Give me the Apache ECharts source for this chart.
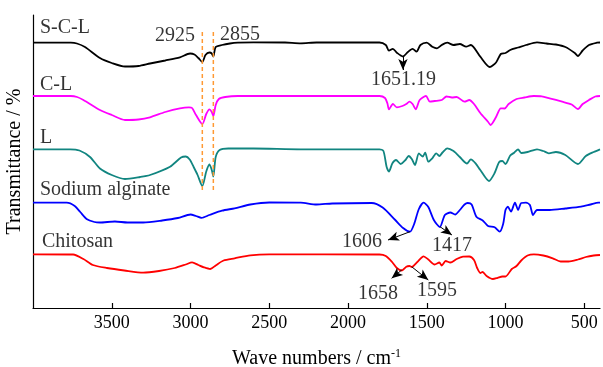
<!DOCTYPE html>
<html>
<head>
<meta charset="utf-8">
<script src="https://cdn.jsdelivr.net/npm/echarts@6/dist/echarts.min.js"></script>
<style>
html,body{margin:0;padding:0;background:#fff;}
#chart{width:603px;height:367px;}
</style>
</head>
<body>
<div id="chart"></div>
<script>
// Wavenumber (cm-1), transmittance (arbitrary, stacked offsets)
var sclData = [[4000,265.3],[3760,265.3],[3721,264.5],[3670,261],[3575,250],[3500,245],[3416,241.5],[3330,242],[3257,244.5],[3160,247.5],[3067,250.7],[3003,254.5],[2975,253.5],[2950,250],[2925,246],[2905,253],[2880,255.5],[2865,254.5],[2855,251.5],[2840,261],[2800,263],[2750,264.5],[2700,265.3],[2600,265.7],[2400,265.5],[2300,264.7],[2200,265.5],[1800,265.5],[1760,263],[1740,257.3],[1715,259.2],[1690,255.3],[1651,251.5],[1620,256],[1590,259.2],[1565,256.3],[1540,263],[1500,265.3],[1465,261.3],[1435,259.7],[1405,263],[1370,265.3],[1330,263],[1290,264],[1250,261.3],[1220,263],[1160,251.3],[1100,241],[1060,245.5],[1030,254],[1000,255],[970,258],[920,260.5],[870,263],[800,265.7],[740,264.5],[680,263.5],[620,261],[560,255],[540,252],[510,257.5],[470,263],[420,265.3],[400,265.5]];
var clData = [[4000,212],[3760,212],[3720,211],[3680,208],[3575,198],[3500,193],[3416,188],[3330,188.5],[3257,190.7],[3160,196],[3067,199.7],[3010,200.7],[2990,200],[2965,193],[2925,184],[2900,194],[2880,198.7],[2865,196],[2855,192],[2840,203],[2820,209],[2780,211],[2700,212],[2300,212],[1800,212],[1765,210],[1750,204.7],[1740,198.7],[1715,204],[1690,200.7],[1655,202],[1630,204],[1610,206.3],[1590,204],[1570,198.7],[1545,208],[1505,212],[1480,206.3],[1450,207],[1405,208],[1375,211.5],[1340,210.5],[1310,211],[1260,206.3],[1230,208],[1200,204],[1160,195],[1110,186],[1095,183],[1060,191],[1030,199.7],[1005,199.5],[980,204],[930,209],[880,210.5],[820,212],[770,211.7],[720,209.7],[640,206.3],[580,203.5],[540,199],[510,204],[470,208],[430,211.5],[400,212]];
var lData = [[4000,158.7],[3765,158.7],[3705,157.5],[3638,151],[3575,139.5],[3500,133],[3416,129],[3320,131],[3257,133],[3130,141.3],[3060,150.5],[3030,151.5],[3005,148.5],[2980,141],[2955,133],[2925,122],[2900,136.5],[2880,143.5],[2865,138],[2855,131.5],[2840,151],[2815,158],[2760,159.5],[2600,159.5],[2300,158.7],[1800,158.7],[1775,157],[1755,141.3],[1740,136.5],[1718,144.7],[1695,148],[1665,144],[1635,148],[1615,152],[1595,149],[1575,143],[1550,154.5],[1525,151.5],[1510,155.3],[1490,146.3],[1465,149.7],[1440,154.7],[1420,152],[1400,155.5],[1370,159.7],[1330,157],[1290,151],[1260,146],[1245,144.5],[1220,148.7],[1190,144.7],[1160,138],[1105,127],[1070,134.7],[1040,146],[1020,147],[1000,144],[970,152.5],[945,155.3],[920,158.7],[900,155],[860,156],[800,158.7],[760,157],[725,154.7],[680,156],[620,153],[540,144],[490,152],[440,156],[400,158.7]];
var saData = [[4000,105.3],[3786,105.3],[3735,102],[3700,96],[3660,89],[3610,86],[3575,85.5],[3480,86.5],[3400,85.5],[3300,85.5],[3180,87.5],[3080,90],[3000,93.5],[2965,92],[2930,90.2],[2880,93],[2800,97.3],[2720,99.7],[2620,103.5],[2500,105.5],[2300,105.3],[2200,103.5],[2100,104.5],[1850,105],[1780,100.5],[1700,88],[1650,80],[1606,76.3],[1580,84],[1550,99],[1520,105.3],[1490,101],[1455,88],[1417,81],[1385,93],[1350,95.5],[1320,93.5],[1290,98],[1260,103.5],[1240,105],[1215,103.5],[1185,91.3],[1143,87.3],[1111,82],[1069,80.7],[1037,76.3],[1015,84],[1000,98],[985,101.3],[965,96.5],[940,105.3],[920,98],[900,105],[870,105.3],[845,103],[825,93],[800,98],[720,98],[620,99.5],[520,101.3],[460,103.5],[410,105.3],[400,105.3]];
var chData = [[4000,53.7],[3745,53.5],[3680,49],[3620,43],[3530,40],[3420,37.5],[3300,35.3],[3200,37],[3100,40],[3030,43.5],[2990,45.7],[2950,43],[2915,40.7],[2875,39],[2840,42.5],[2790,47.5],[2720,49.7],[2620,52.7],[2500,53.7],[1800,53.5],[1760,52],[1720,46],[1690,40],[1658,37.5],[1630,41.3],[1610,42],[1595,41],[1560,46],[1520,51.7],[1490,48.5],[1450,43.5],[1420,45.5],[1405,42.5],[1380,47],[1350,45.5],[1310,49],[1270,51.3],[1230,51.5],[1200,48],[1180,40],[1160,35],[1145,36],[1120,32],[1080,29],[1050,30.2],[1020,31.5],[1000,31.5],[960,39],[930,42],[900,47.5],[860,52.5],[820,53.7],[760,52.5],[700,49.7],[650,46.5],[600,46.5],[540,48.5],[490,51],[440,52.5],[400,53]];

var seriesNames = ['S-C-L','C-L','L','Sodium alginate','Chitosan'];
var seriesColors = ['#000000','#ff00ff','#118580','#0000ff','#ff0000'];
var tickValues = [3500,3000,2500,2000,1500,1000,500];
var dashedPeaks = [2925, 2855];
var dashedRange = [276, 116];

// Text annotations: [wavenumber, value, text, align]
var nameLabels = [[3956,280.5,'S-C-L','left'],[3956,223,'C-L','left'],[3956,170,'L','left'],[3956,118.5,'Sodium alginate','left'],[3943,66.5,'Chitosan','left']];
var peakLabels = [[2971,272.5,'2925','right'],[2813,273.5,'2855','left'],[1648,228,'1651.19','center'],[1911,66.5,'1606','center'],[1340,62.5,'1417','center'],[1810,14.5,'1658','center'],[1435,17.5,'1595','center']];
// Arrows: [fromW, fromV, toW, toV]
var arrows = [[1651,252,1651,238],[1606,76.3,1746,68],[1416,81.3,1340,73],[1659,38,1723,29.7],[1596,41.3,1490,28]];

var FONT = '"Liberation Serif", "Times New Roman", serif';
var chart = echarts.init(document.getElementById('chart'), null, {renderer:'canvas'});

var dataSets = [sclData, clData, lData, saData, chData];
var series = dataSets.map(function(d, i){
  return {
    name: seriesNames[i], type:'line', data:d, showSymbol:false, symbol:'none',
    smooth:0.25, lineStyle:{color:seriesColors[i], width:1.8}, silent:true, z:3
  };
});
dashedPeaks.forEach(function(w){
  series.push({
    type:'line', data:[[w,dashedRange[0]],[w,dashedRange[1]]], symbol:'none', silent:true, z:4,
    lineStyle:{color:'#ff9933', width:1.5, type:[4,3]}
  });
});
var annData = nameLabels.concat(peakLabels).map(function(a){
  return {value:[a[0],a[1]], label:{formatter:a[2], align:a[3]}};
});
series.push({
  type:'scatter', data:annData, symbolSize:0, silent:true, z:5,
  label:{show:true, position:'inside', verticalAlign:'middle', color:'#000', fontSize:20, fontFamily:FONT},
  markLine:{
    silent:true, symbol:['none','arrow'], symbolSize:[7,11], animation:false,
    lineStyle:{color:'#000', width:1, type:'solid'}, label:{show:false},
    data: arrows.map(function(a){ return [{coord:[a[0],a[1]]},{coord:[a[2],a[3]]}]; })
  }
});

chart.setOption({
  animation:false,
  backgroundColor:'#fff',
  grid:{left:33, right:3, top:15, bottom:59, containLabel:false, outerBoundsMode:'none'},
  xAxis:{
    type:'value', inverse:true, min:400, max:4000,
    name:'Wave numbers / cm{sup|-1}', nameLocation:'middle', nameGap:40,
    nameTextStyle:{color:'#000', fontSize:20, fontFamily:FONT,
      rich:{sup:{fontSize:12, fontFamily:FONT, color:'#000', verticalAlign:'top', padding:[0,0,10,0]}}},
    axisLine:{lineStyle:{color:'#000', width:1.2}},
    axisTick:{inside:true, length:5, customValues:tickValues, lineStyle:{color:'#000', width:1.2}},
    axisLabel:{customValues:tickValues, margin:6, color:'#000', fontSize:18, fontFamily:FONT,
      formatter:function(v){ return String(v); }},
    splitLine:{show:false}
  },
  yAxis:{
    type:'value', min:0, max:293,
    name:'Transmittance / %', nameLocation:'middle', nameGap:8,
    nameTextStyle:{color:'#000', fontSize:20, fontFamily:FONT},
    axisLine:{show:true, lineStyle:{color:'#000', width:1.2}},
    axisTick:{show:false}, axisLabel:{show:false}, splitLine:{show:false}
  },
  series:series
});
</script>
</body>
</html>
